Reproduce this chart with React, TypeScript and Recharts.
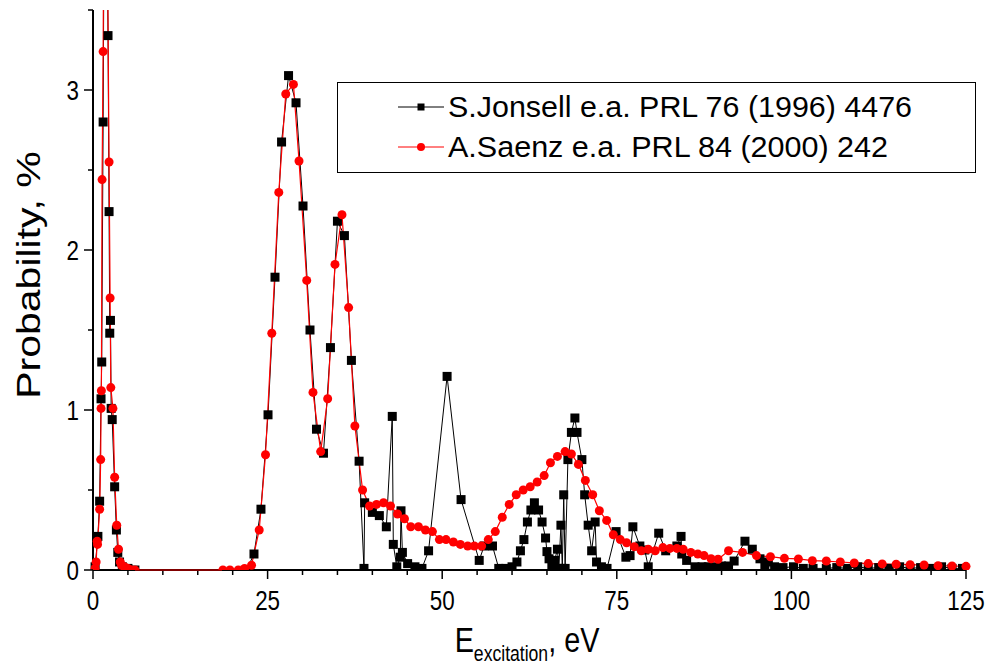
import { LineChart, Line, XAxis, YAxis } from 'recharts'

// ─── Data ─────────────────────────────────────────────────────────────────
const jonsellE = [
  0.3, 0.7, 0.95, 1.15, 1.25, 1.45, 1.75, 2.15, 2.3, 2.4, 2.5, 2.6, 2.75, 3.1, 3.35, 3.55, 3.8, 4.2, 5.0, 6.0,
  22.0, 23.05, 24.05, 25.06, 26.06, 27.0, 28.0, 29.07, 30.07, 31.07, 32.0, 33.0, 34.0, 35.0, 36.0, 37.0, 38.1,
  38.8, 38.9, 40.0, 41.0, 42.0, 42.85, 43.0, 43.5, 44.0, 44.1, 44.3, 45.05, 46.1, 47.1, 48.05, 50.7, 52.7,
  55.3, 56.0, 57.2, 58.1, 59.1, 60.0, 60.7, 61.2, 61.7, 62.2, 62.7, 63.2, 63.8, 64.3, 64.8, 65.0, 65.3, 65.7,
  66.1, 66.5, 66.7, 67.0, 67.2, 67.4, 67.6, 68.0, 68.5, 69.0, 69.3, 70.0, 70.4, 70.9, 71.4, 71.9, 72.1, 72.8,
  73.6, 74.9, 76.3, 76.9, 77.3, 78.3, 79.0, 79.5, 81.0, 82.0, 83.6, 84.2, 84.3, 85.0, 86.2, 87.2, 88.1, 89.0,
  90.0, 91.0, 91.8, 93.35, 94.4, 95.5, 96.2, 96.7, 97.6, 98.8, 100.3, 101.7, 103.1, 105.0, 106.5, 108.0, 109.5,
  111.0, 112.5, 114.0, 115.5, 117.0, 118.5, 120.0, 121.5, 123.0, 124.5,
]
const jonsellP = [
  0.02, 0.21, 0.43, 1.07, 1.30, 2.80, 5.6, 3.34, 2.24, 1.48, 1.56, 1.01, 0.94, 0.52, 0.25, 0.11, 0.05, 0.02, 0.01, 0.0,
  0.0, 0.10, 0.38, 0.97, 1.83, 2.675, 3.09, 2.92, 2.275, 1.50, 0.88, 0.73, 1.39, 2.18, 2.09, 1.31, 0.68,
  0.01, 0.42, 0.36, 0.34, 0.27, 0.96, 0.16, 0.02, 0.08, 0.37, 0.11, 0.04, 0.02, 0.01, 0.12, 1.21, 0.44,
  0.06, 0.15, 0.15, 0.01, 0.01, 0.02, 0.05, 0.12, 0.19, 0.30, 0.375, 0.42, 0.375, 0.30, 0.20, 0.115, 0.07, 0.02,
  0.06, 0.13, 0.01, 0.28, 0.01, 0.47, 0.01, 0.69, 0.86, 0.95, 0.86, 0.69, 0.47, 0.28, 0.12, 0.30, 0.05, 0.02,
  0.01, 0.24, 0.08, 0.09, 0.27, 0.15, 0.125, 0.02, 0.23, 0.12, 0.15, 0.21, 0.10, 0.06, 0.02, 0.02, 0.02, 0.02,
  0.025, 0.025, 0.056, 0.18, 0.13, 0.07, 0.03, 0.05, 0.02, 0.015, 0.02, 0.01, 0.01, 0.01, 0.015, 0.01, 0.02,
  0.01, 0.015, 0.01, 0.02, 0.01, 0.015, 0.01, 0.02, 0.01, 0.01,
]

const saenzE = [
  0.3, 0.45, 0.6, 0.65, 0.95, 1.1, 1.15, 1.2, 1.3, 1.45, 1.75, 2.3, 2.45, 2.55, 2.85, 3.1, 3.4, 3.65, 3.9, 4.1,
  4.5, 5.0, 5.5, 6.0, 18.6, 19.6, 20.8, 21.7, 22.7, 23.8, 24.7, 25.6, 26.6, 27.6, 28.7, 29.5, 30.6, 31.5, 32.6,
  33.6, 34.65, 35.65, 36.6, 37.5, 38.6, 39.6, 40.6, 41.6, 42.6, 43.6, 44.6, 45.5, 46.6, 47.6, 48.6, 49.6, 50.55,
  51.6, 52.6, 53.65, 54.6, 55.65, 56.6, 57.6, 58.6, 59.6, 60.6, 61.6, 62.6, 63.6, 64.6, 65.5, 66.5, 67.6, 68.5,
  69.5, 70.5, 71.55, 72.5, 73.55, 74.5, 75.5, 76.4, 77.5, 78.5, 79.5, 80.5, 81.6, 82.6, 83.6, 84.5, 85.6, 86.6,
  87.5, 88.5, 89.5, 91.0, 93.0, 95.0, 97.0, 99.0, 101.0, 103.0, 105.0, 107.0, 109.0, 111.0, 113.0, 115.0, 117.0,
  119.0, 121.0, 123.0, 125.0,
]
const saenzP = [
  0.01, 0.05, 0.18, 0.16, 0.38, 0.69, 1.01, 1.12, 2.44, 3.24, 5.8, 2.55, 1.70, 1.14, 1.01, 0.58, 0.28, 0.13, 0.05, 0.03,
  0.02, 0.01, 0.0, 0.0, 0.0, 0.0, 0.0, 0.01, 0.03, 0.25, 0.72, 1.48, 2.36, 2.975, 3.035, 2.556, 1.81, 1.11, 0.74,
  1.07, 1.91, 2.22, 1.64, 0.90, 0.50, 0.40, 0.41, 0.42, 0.40, 0.35, 0.32, 0.27, 0.27, 0.25, 0.24, 0.19, 0.19,
  0.175, 0.16, 0.15, 0.15, 0.15, 0.19, 0.24, 0.33, 0.41, 0.47, 0.50, 0.52, 0.55, 0.59, 0.67, 0.71, 0.74, 0.725,
  0.66, 0.56, 0.47, 0.37, 0.31, 0.22, 0.19, 0.17, 0.146, 0.12, 0.13, 0.12, 0.14, 0.135, 0.135, 0.13, 0.11, 0.10,
  0.09, 0.07, 0.067, 0.12, 0.11, 0.09, 0.083, 0.073, 0.069, 0.058, 0.056, 0.05, 0.044, 0.04, 0.038, 0.036, 0.033,
  0.031, 0.027, 0.025, 0.023,
]

const xTicks = [0, 5, 10, 15, 20, 25, 30, 35, 40, 45, 50, 55, 60, 65, 70, 75, 80, 85, 90, 95, 100, 105, 110, 115, 120, 125]
const yTicks = [0, 0.5, 1, 1.5, 2, 2.5, 3, 3.5]

const jonsell = jonsellE.map((e, i) => ({ e, p: jonsellP[i] }))
const saenz = saenzE.map((e, i) => ({ e, p: saenzP[i] }))

const FONT = '"Liberation Sans", Arial, sans-serif'
const SQ = 0.8 // the original text looks horizontally squeezed

// ─── Ticks ────────────────────────────────────────────────────────────────
function XTick({ x, y, payload }: any) {
  const major = payload.value % 25 === 0
  return (
    <g>
      <line x1={x} y1={y} x2={x} y2={y + (major ? 9 : 5)} stroke="#000" strokeWidth={1.5} />
      {major && (
        <text transform={`translate(${x},${y + 40}) scale(${SQ},1)`} textAnchor="middle"
          fontFamily={FONT} fontSize={28} fill="#000">{payload.value}</text>
      )}
    </g>
  )
}

function YTick({ x, y, payload }: any) {
  const major = Number.isInteger(payload.value)
  return (
    <g>
      <line x1={x} y1={y} x2={x - (major ? 9 : 5)} y2={y} stroke="#000" strokeWidth={1.5} />
      {major && (
        <text transform={`translate(${x - 14},${y + 10}) scale(${SQ},1)`} textAnchor="end"
          fontFamily={FONT} fontSize={28} fill="#000">{payload.value}</text>
      )}
    </g>
  )
}

function SquareDot({ cx, cy, index }: any) {
  if (cx == null || cy == null) return <g key={index} />
  return <rect key={index} x={cx - 4.5} y={cy - 4.5} width={9} height={9} fill="#000" />
}

// ─── Chart ────────────────────────────────────────────────────────────────
export default function App() {
  return (
    <div style={{ position: 'absolute', left: 0, top: 0, width: 987, height: 669, background: '#fff' }}>
      <LineChart width={987} height={669} margin={{ top: 10, right: 21, bottom: 0, left: 0 }}>
        <XAxis type="number" dataKey="e" domain={[0, 125]} ticks={xTicks} interval={0}
          height={99} tickSize={0} tickMargin={0} tickLine={false} tick={<XTick />}
          axisLine={{ stroke: '#000', strokeWidth: 2 }} allowDuplicatedCategory={false} />
        <YAxis type="number" domain={[0, 3.5]} ticks={yTicks} interval={0} allowDataOverflow
          width={93} tickSize={0} tickMargin={0} tickLine={false} tick={<YTick />}
          axisLine={{ stroke: '#000', strokeWidth: 2 }} />
        <Line data={jonsell} dataKey="p" type="linear" stroke="#000" strokeWidth={1}
          dot={<SquareDot />} activeDot={false} isAnimationActive={false} />
        <Line data={saenz} dataKey="p" type="linear" stroke="#ff0000" strokeWidth={1.2}
          dot={{ r: 4.5, fill: '#ff0000', stroke: 'none' }} activeDot={false} isAnimationActive={false} />
      </LineChart>

      <svg width={987} height={669} style={{ position: 'absolute', left: 0, top: 0, pointerEvents: 'none' }}>
        {/* red zero-line in the gap sits on top of the axis in the original */}
        <line x1={135} y1={570} x2={222} y2={570} stroke="#ff0000" strokeWidth={1.2} />

        {/* axis titles */}
        <text transform={`translate(40,275) rotate(-90) scale(1,${SQ})`} textAnchor="middle"
          fontFamily={FONT} fontSize={41} fill="#000">Probability, %</text>
        <text transform={`translate(527,652) scale(${SQ},1)`} textAnchor="middle" fontFamily={FONT} fill="#000">
          <tspan fontSize={36}>E</tspan>
          <tspan fontSize={22} dy={9}>excitation</tspan>
          <tspan fontSize={36} dy={-9}>, eV</tspan>
        </text>

        {/* legend */}
        <rect x={337.5} y={82.5} width={638} height={90} fill="#fff" stroke="#000" strokeWidth={1} />
        <line x1={398} y1={107} x2={444} y2={107} stroke="#000" strokeWidth={1} />
        <rect x={417.5} y={103.5} width={7} height={7} fill="#000" />
        <text x={448} y={117} fontFamily={FONT} fontSize={29} textLength={464} lengthAdjust="spacingAndGlyphs" fill="#000">
          S.Jonsell e.a. PRL 76 (1996) 4476
        </text>
        <line x1={398} y1={147} x2={444} y2={147} stroke="#ff0000" strokeWidth={1} />
        <circle cx={421} cy={147} r={4} fill="#ff0000" />
        <text x={448} y={157} fontFamily={FONT} fontSize={29} textLength={440} lengthAdjust="spacingAndGlyphs" fill="#000">
          A.Saenz e.a. PRL 84 (2000) 242
        </text>
      </svg>
    </div>
  )
}
